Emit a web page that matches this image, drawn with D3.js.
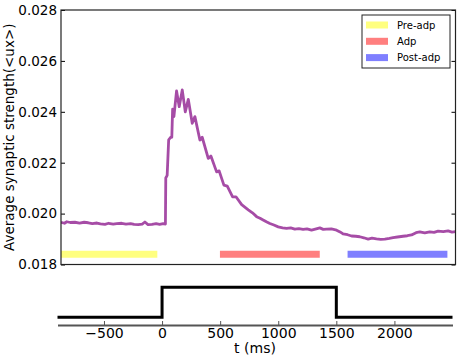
<!DOCTYPE html>
<html>
<head>
<meta charset="utf-8">
<script src="https://cdn.jsdelivr.net/npm/d3@7"></script>
<style>
  html, body { margin: 0; padding: 0; background: #fff; }
  svg { display: block; font-family: "DejaVu Sans", sans-serif; }
</style>
</head>
<body>
<div id="chart"></div>
<script>
// average synaptic strength trace (t in ms)
const timesMs = [
  -900, -870, -850, -820, -780, -740, -700, -665, -630, -590, -560, -521, -490, -450,
  -420, -377, -340, -300, -270, -234, -200, -177, -150, -116, -80, -50, -19, 0,
  3, 15, 28, 45, 55, 62, 73, 96, 119, 145, 171, 197, 231, 254, 297, 317, 369, 392,
  441, 463, 504, 533, 579, 608, 657, 714, 750, 786, 815, 842, 870, 900, 935, 972,
  1010, 1044, 1080, 1115, 1150, 1187, 1220, 1259, 1300, 1331, 1360, 1388, 1430, 1475,
  1505, 1531, 1570, 1604, 1640, 1675, 1710, 1747, 1780, 1819, 1855, 1891, 1930, 1962,
  2000, 2048, 2085, 2121, 2160, 2192, 2235, 2278, 2315, 2350, 2395, 2436, 2470, 2500
];
const strength = [
  0.01966, 0.01962, 0.01968, 0.01965, 0.01966, 0.01963, 0.01966, 0.01964, 0.01961, 0.01963,
  0.01960, 0.01958, 0.01962, 0.01959, 0.01961, 0.01962, 0.01959, 0.01961, 0.01958, 0.01957,
  0.01959, 0.01967, 0.01957, 0.01958, 0.01961, 0.01958, 0.01961, 0.01959,
  0.02140, 0.02150, 0.02290, 0.02300, 0.02300, 0.02410, 0.02381, 0.02482, 0.02420, 0.02486,
  0.02400, 0.02449, 0.02355, 0.02381, 0.02289, 0.02300, 0.02217, 0.02226,
  0.02164, 0.02168, 0.02112, 0.02108, 0.02066, 0.02066, 0.02035, 0.02015, 0.02003, 0.01988,
  0.01982, 0.01975, 0.01968, 0.01961, 0.01955, 0.01948,
  0.01944, 0.01942, 0.01944, 0.01939, 0.01941, 0.01938, 0.01940, 0.01935, 0.01940, 0.01944,
  0.01938, 0.01939, 0.01940, 0.01935,
  0.01928, 0.01920, 0.01917, 0.01912, 0.01911, 0.01909, 0.01905, 0.01900, 0.01904, 0.01901,
  0.01899, 0.01900, 0.01903, 0.01906,
  0.01908, 0.01911, 0.01913, 0.01916, 0.01925, 0.01928, 0.01924, 0.01928, 0.01926, 0.01931,
  0.01929, 0.01932, 0.01927, 0.01929
];

// adaptation periods drawn as thick bars
const periodNames = ['Pre-adp', 'Adp', 'Post-adp'];
const periodStart = [-900, 500, 1600];
const periodEnd = [-100, 1300, 2400];
const periodLevel = [0.0184, 0.0184, 0.0184];
const periodColors = ['#ffff00', '#ff0000', '#0000ff'];

// stimulus step (bottom panel)
const stimTimes = [-900, 0, 0, 1500, 1500, 2500];
const stimValues = [0, 0, 1, 1, 0, 0];

const yTicks = [0.018, 0.020, 0.022, 0.024, 0.026, 0.028];
const xTicks = [-500, 0, 500, 1000, 1500, 2000];

const W = 459, H = 359;
const plot = { left: 61, right: 455.5, top: 10, bottom: 264.5 };
const lower = { left: 57.5, right: 452.5, high: 287.3, low: 317.3, axis: 325 };

const svg = d3.select('#chart').append('svg')
  .attr('width', W).attr('height', H);

// scales
const x = d3.scaleLinear().domain([-900, 2500]).range([plot.left, plot.right]);
const y = d3.scaleLinear().domain([0.018, 0.028]).range([plot.bottom, plot.top]);
const x2 = d3.scaleLinear().domain([-900, 2500]).range([lower.left, lower.right]);
const y2 = d3.scaleLinear().domain([0, 1]).range([lower.low, lower.high]);

svg.append('clipPath').attr('id', 'clip')
  .append('rect')
  .attr('x', plot.left).attr('y', plot.top)
  .attr('width', plot.right - plot.left).attr('height', plot.bottom - plot.top);

const g = svg.append('g').attr('clip-path', 'url(#clip)');

// period bars
periodNames.forEach((name, i) => {
  g.append('line')
    .attr('x1', x(periodStart[i])).attr('x2', x(periodEnd[i]))
    .attr('y1', y(periodLevel[i])).attr('y2', y(periodLevel[i]))
    .attr('stroke', periodColors[i])
    .attr('stroke-opacity', 0.5)
    .attr('stroke-width', 7)
    .attr('stroke-linecap', 'square');
});

// trace
const trace = timesMs.map((t, i) => ({ t, v: strength[i] }));
g.append('path')
  .datum(trace)
  .attr('fill', 'none')
  .attr('stroke', 'rgb(128,0,128)')
  .attr('stroke-opacity', 0.7)
  .attr('stroke-width', 2.8)
  .attr('stroke-linejoin', 'round')
  .attr('d', d3.line().x(d => x(d.t)).y(d => y(d.v)));

// left axis, ticks inside
const yAxis = svg.append('g')
  .attr('transform', `translate(${plot.left},0)`)
  .call(d3.axisLeft(y).tickValues(yTicks).tickFormat(d3.format('.3f')).tickSizeInner(-4).tickSizeOuter(0).tickPadding(4));
yAxis.select('.domain').remove();
yAxis.selectAll('line').attr('stroke', '#000');
yAxis.selectAll('text').attr('font-size', 13.5).attr('fill', '#000').attr('font-family', '"DejaVu Sans", sans-serif');

// right ticks inside
const yAxisR = svg.append('g')
  .attr('transform', `translate(${plot.right},0)`)
  .call(d3.axisRight(y).tickValues(yTicks).tickFormat('').tickSizeInner(-4).tickSizeOuter(0));
yAxisR.select('.domain').remove();
yAxisR.selectAll('line').attr('stroke', '#000');

// frame
svg.append('rect')
  .attr('x', plot.left).attr('y', plot.top)
  .attr('width', plot.right - plot.left).attr('height', plot.bottom - plot.top)
  .attr('fill', 'none').attr('stroke', '#222').attr('stroke-width', 1.2);

// y label
svg.append('text')
  .attr('transform', `translate(14,${(plot.top + plot.bottom) / 2}) rotate(-90)`)
  .attr('text-anchor', 'middle')
  .attr('font-size', 13.5)
  .text('Average synaptic strength(<ux>)');

// legend
const lg = svg.append('g').attr('transform', 'translate(362,15)');
lg.append('rect')
  .attr('width', 88).attr('height', 53)
  .attr('fill', '#fff').attr('stroke', '#222').attr('stroke-width', 1);
periodNames.forEach((name, i) => {
  const cy = 10 + i * 16.3;
  lg.append('rect')
    .attr('x', 4).attr('y', cy - 3.5)
    .attr('width', 22).attr('height', 7)
    .attr('fill', periodColors[i]).attr('fill-opacity', 0.5);
  lg.append('text')
    .attr('x', 35).attr('y', cy)
    .attr('dy', '0.35em')
    .attr('font-size', 10)
    .text(name);
});

// bottom panel: stimulus
const stim = stimTimes.map((t, i) => ({ t, v: stimValues[i] }));
svg.append('path')
  .datum(stim)
  .attr('fill', 'none')
  .attr('stroke', '#000')
  .attr('stroke-width', 3)
  .attr('d', d3.line().x(d => x2(d.t)).y(d => y2(d.v)));

const xAxis = svg.append('g')
  .attr('transform', `translate(0,${lower.axis})`)
  .call(d3.axisBottom(x2).tickValues(xTicks).tickFormat(d => d < 0 ? '\u2212' + Math.abs(d) : d)
    .tickSizeInner(-4).tickSizeOuter(0).tickPadding(3.5));
xAxis.select('.domain').attr('stroke', '#555').attr('stroke-width', 2);
xAxis.selectAll('line').attr('stroke', '#555');
xAxis.selectAll('text').attr('font-size', 14).attr('fill', '#000').attr('font-family', '"DejaVu Sans", sans-serif');

svg.append('text')
  .attr('x', x2(800)).attr('y', 353)
  .attr('text-anchor', 'middle')
  .attr('font-size', 14)
  .text('t (ms)');
</script>
</body>
</html>
